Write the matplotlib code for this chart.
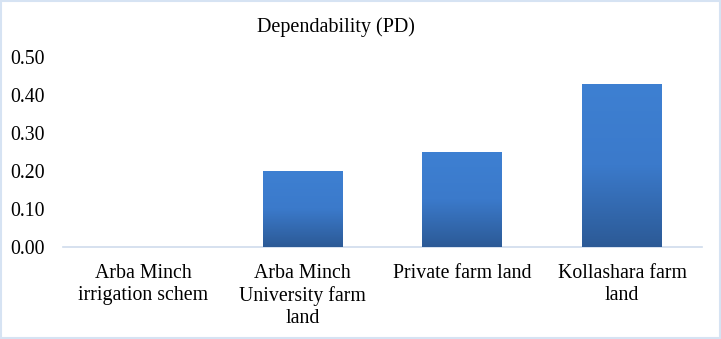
import numpy as np
import matplotlib.pyplot as plt
from matplotlib.colors import LinearSegmentedColormap
from matplotlib.patches import Rectangle

plt.rcParams['font.family'] = ['Liberation Serif', 'DejaVu Serif']

categories = ['Arba Minch\nirrigation schem',
              'Arba Minch\nUniversity farm\nland',
              'Private farm land',
              'Kollashara farm\nland']
values = [0.0, 0.20, 0.25, 0.43]
yticks = [0.0, 0.1, 0.2, 0.3, 0.4, 0.5]

fig = plt.figure(figsize=(7.21, 3.39), dpi=100)
ax = fig.add_axes([0.0874, 0.2714, 0.8862, 0.5605])

x = np.arange(len(categories))
bars = ax.bar(x, values, width=0.5, color='none', edgecolor='none', zorder=3)

# vertical gradient fill for each bar: lighter on top, darker at bottom
cmap = LinearSegmentedColormap.from_list('bluegrad', ['#2c5a96', '#3b7acb', '#3e80d2'])
grad = np.linspace(0, 1, 256).reshape(-1, 1)
for b in bars:
    h = b.get_height()
    if h <= 0:
        continue
    x0, w = b.get_x(), b.get_width()
    im = ax.imshow(grad, cmap=cmap, origin='lower', aspect='auto',
                   extent=[x0, x0 + w, 0, h], zorder=3)
    im.set_clip_path(b)

ax.set_xlim(-0.5, len(categories) - 0.5)
ax.set_ylim(0, 0.5)
ax.set_yticks(yticks)
ax.set_yticklabels([f'{v:.2f}' for v in yticks], fontsize=14.3)
ax.set_xticks(x)
ax.set_xticklabels(categories, fontsize=14.3, linespacing=1.22)
ax.tick_params(length=0)
ax.tick_params(axis='y', pad=13)
ax.tick_params(axis='x', pad=12)
for s in ['top', 'right', 'left']:
    ax.spines[s].set_visible(False)
ax.spines['bottom'].set_color('#cfdcec')
ax.spines['bottom'].set_linewidth(1.2)

fig.text(336 / 721, 1 - 27 / 339, 'Dependability (PD)', ha='center', va='center', fontsize=14.5)

fig.patches.append(Rectangle((0.002, 0.003), 0.996, 0.994, transform=fig.transFigure,
                             fill=False, edgecolor='#d6e3f3', linewidth=1.5))

fig.savefig('out.png', dpi=100)
